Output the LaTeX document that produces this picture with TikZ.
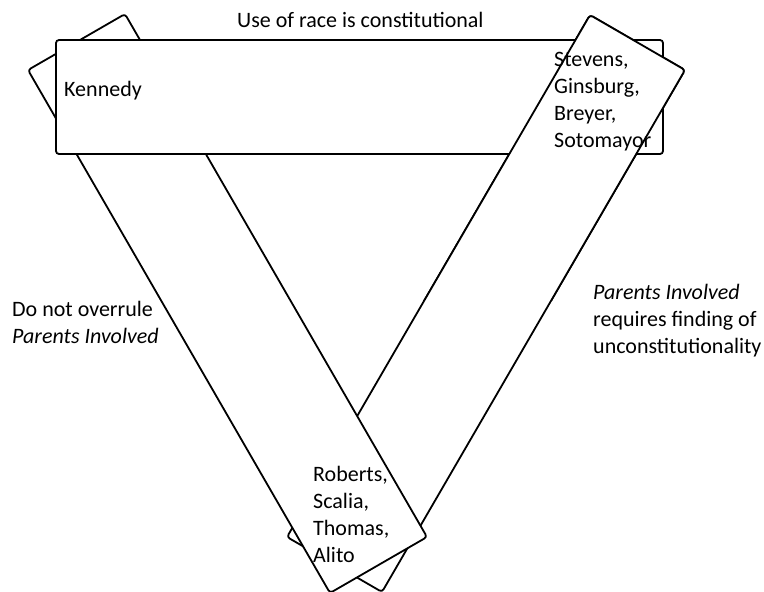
\documentclass[tikz,border=0pt]{standalone}
\usepackage{fontspec}
\setmainfont{Carlito}
\begin{document}
\begin{tikzpicture}[x=1pt,y=-1pt,
  bar/.style={draw=black,fill=white,line width=1.8pt,rounded corners=3pt},
  lbl/.style={inner sep=0pt,align=left,font=\fontsize{22}{27}\selectfont,anchor=base west}]
\useasboundingbox (0,0) rectangle (764,592);
% right bar corners
\coordinate (rP) at (590,15);
\coordinate (rQ) at (685,70);
\coordinate (rS) at (382,592);
\coordinate (rR) at (287,537);
% left bar corners
\coordinate (lA) at (28,70);
\coordinate (lB) at (125,14);
\coordinate (lC) at (427,537);
\coordinate (lD) at (330,593);
% horizontal rectangle
\coordinate (hNW) at (56,40);
\coordinate (hSE) at (663,154);
% right bar (bottom part lies under left bar)
\draw[bar] (rP) -- (rQ) -- (rS) -- (rR) -- cycle;
% left bar
\draw[bar] (lA) -- (lB) -- (lC) -- (lD) -- cycle;
% horizontal bar
\draw[bar] (hNW) rectangle (hSE);
% right bar again on top of the horizontal bar (upper part only)
\begin{scope}
  \clip (0,0) rectangle (764,300);
  \draw[bar] (rP) -- (rQ) -- (rS) -- (rR) -- cycle;
\end{scope}
% texts (base = baseline of last line)
\node[lbl] (top) at (237,27) {Use of race is constitutional};
\node[lbl] (kennedy) at (64,96) {Kennedy};
\node[lbl] (liberals) at (554,147) {Stevens,\\Ginsburg,\\Breyer,\\Sotomayor};
\node[lbl] (conserv) at (313,562) {Roberts,\\Scalia,\\Thomas,\\Alito};
\node[lbl] (leftlab) at (12,343) {Do not overrule\\\textit{Parents Involved}};
\node[lbl] (rightlab) at (593,353) {\textit{Parents Involved}\\requires finding of\\unconstitutionality};
\end{tikzpicture}
\end{document}
